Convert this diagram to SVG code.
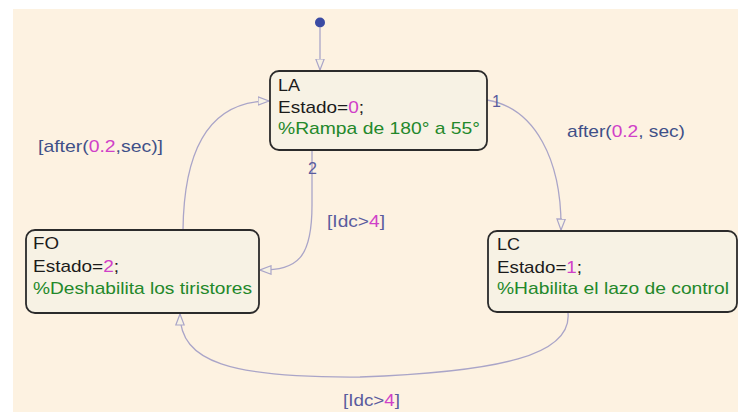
<svg xmlns="http://www.w3.org/2000/svg" width="738" height="412" viewBox="0 0 738 412">
<style>
.bg{fill:#fdf2e1}
.state{fill:#f7f2e4;stroke:#2b2b2b;stroke-width:1.8}
.t{font-family:"Liberation Sans",Arial,sans-serif;font-size:17px;fill:#1b1b1b}
.num{fill:#d040c8}
.cm{fill:#23882a}
.lbl{font-family:"Liberation Sans",Arial,sans-serif;font-size:17px;fill:#3f5088}
.lbl2{font-family:"Liberation Sans",Arial,sans-serif;font-size:17px;fill:#5a5c9e}
.idx{font-family:"Liberation Sans",Arial,sans-serif;font-size:16px;fill:#5a5c9e}
.edge{fill:none;stroke:#aaa5c8;stroke-width:1.3}
</style>
<defs>
<marker id="arr" viewBox="0 0 12 10" refX="11.5" refY="5" markerWidth="12" markerHeight="10" markerUnits="userSpaceOnUse" orient="auto">
<path d="M0.5,0.8 L11.5,5 L0.5,9.2 Z" fill="#f7f2e4" stroke="#aaa5c8" stroke-width="1.2"/>
</marker>
</defs>
<rect class="bg" x="13" y="9" width="725" height="403"/>
<g id="connectors">
<circle cx="320" cy="22.5" r="5" fill="#3b4ba3"/>
<path class="edge" d="M320,27 L320,70" marker-end="url(#arr)"/>
<path class="edge" d="M487,100 C535,108 562,160 561,230" marker-end="url(#arr)"/>
<path class="edge" d="M312,151 L312,205 C312,258 298,270 260,270" marker-end="url(#arr)"/>
<path class="edge" d="M183,230 C184,140 215,101 269,101" marker-end="url(#arr)"/>
<path class="edge" d="M568,313 C572,355 500,372 360,377 C230,378 180,362 180,314" marker-end="url(#arr)"/>
<text class="idx" x="492" y="107">1</text>
<text class="idx" x="308" y="174">2</text>
<text class="lbl" x="567" y="137" textLength="118" lengthAdjust="spacingAndGlyphs">after(<tspan class="num">0.2</tspan>, sec)</text>
<text class="lbl" x="38" y="152" textLength="125" lengthAdjust="spacingAndGlyphs">[after(<tspan class="num">0.2</tspan>,sec)]</text>
<text class="lbl2" x="327" y="227" textLength="58" lengthAdjust="spacingAndGlyphs">[Idc&gt;<tspan class="num">4</tspan>]</text>
<text class="lbl2" x="343" y="406" textLength="57" lengthAdjust="spacingAndGlyphs">[Idc&gt;<tspan class="num">4</tspan>]</text>
</g>
<g id="LA">
<rect class="state" x="270" y="71" width="217" height="79" rx="9"/>
<text class="t" x="278" y="91" textLength="22" lengthAdjust="spacingAndGlyphs">LA</text>
<text class="t" x="278" y="113" textLength="86" lengthAdjust="spacingAndGlyphs">Estado=<tspan class="num">0</tspan>;</text>
<text class="t cm" x="278" y="134" textLength="202" lengthAdjust="spacingAndGlyphs">%Rampa de 180° a 55°</text>
</g>
<g id="FO">
<rect class="state" x="26" y="230" width="233" height="83" rx="9"/>
<text class="t" x="33" y="249" textLength="26" lengthAdjust="spacingAndGlyphs">FO</text>
<text class="t" x="33" y="272" textLength="86" lengthAdjust="spacingAndGlyphs">Estado=<tspan class="num">2</tspan>;</text>
<text class="t cm" x="33" y="294" textLength="219" lengthAdjust="spacingAndGlyphs">%Deshabilita los tiristores</text>
</g>
<g id="LC">
<rect class="state" x="488" y="231" width="249" height="81" rx="9"/>
<text class="t" x="497" y="250" textLength="23" lengthAdjust="spacingAndGlyphs">LC</text>
<text class="t" x="497" y="273" textLength="85" lengthAdjust="spacingAndGlyphs">Estado=<tspan class="num">1</tspan>;</text>
<text class="t cm" x="497" y="294" textLength="232" lengthAdjust="spacingAndGlyphs">%Habilita el lazo de control</text>
</g>
</svg>
